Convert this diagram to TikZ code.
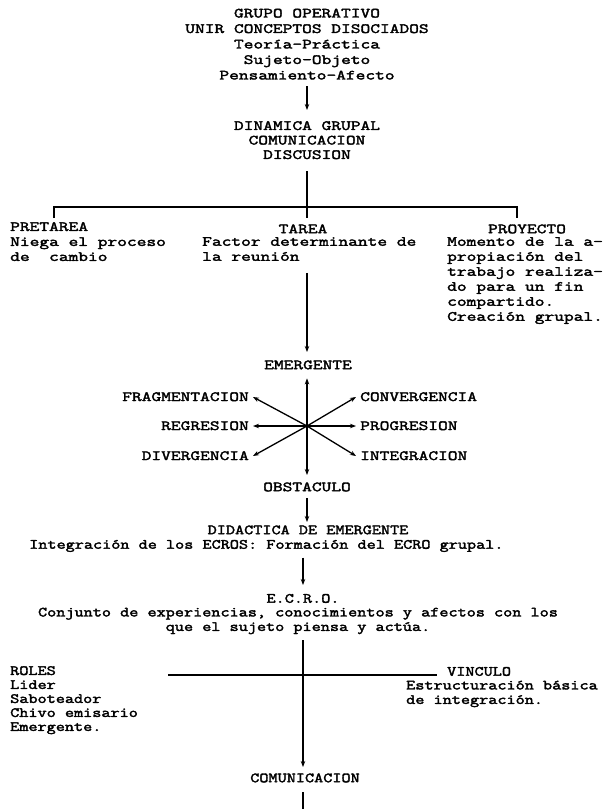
\documentclass[tikz,border=0pt]{standalone}
\usepackage{fontspec}
\newfontfamily\twa{Latin Modern Mono}[FakeStretch=1.35,FakeBold=2.5]
\newfontfamily\twb{Latin Modern Mono}[FakeStretch=1.265,FakeBold=2.5]
\usetikzlibrary{arrows.meta,calc}
\newcommand{\tsr}{\rule[-3pt]{0pt}{14pt}}
\tikzset{
  tx/.style={inner sep=0pt, execute at begin node=\tsr, execute at end node=\tsr,
    font=\twa\fontsize{14}{#1}\selectfont},
  tx/.default=15pt,
  txb/.style={inner sep=0pt, execute at begin node=\tsr, execute at end node=\tsr,
    font=\twb\fontsize{14}{#1}\selectfont},
  txb/.default=14.5pt,
  lbl/.style={tx, inner xsep=4pt},
  ln/.style={line width=1.3pt, black},
  arr/.style={ln, -{Stealth[length=6pt,width=4.5pt]}}
}
\lineskiplimit=-20pt
\begin{document}
\lineskiplimit=-20pt
\begin{tikzpicture}[x=1pt,y=-1pt]
\fill[white] (0,0) rectangle (608,809);
\useasboundingbox (0,0) rectangle (608,809);

% top
\node[tx=15.5pt, align=center, anchor=north] (top) at (307,8.5)
  {GRUPO OPERATIVO\\UNIR CONCEPTOS DISOCIADOS\\Teoría-Práctica\\Sujeto-Objeto\\Pensamiento-Afecto};
\node[tx=14.5pt, align=center, anchor=north] (din) at (307,121)
  {DINAMICA GRUPAL\\COMUNICACION\\DISCUSION};
\draw[arr, shorten <=3.5pt, shorten >=11pt] (top.south) -- (din.north);

% three branches
\node[tx, align=left, anchor=north west] (pre) at (10,222)
  {PRETAREA\\Niega el proceso\\de\ \ cambio};
\node[tx, anchor=north] (tarea) at (303,222) {TAREA};
\node[tx, align=left, anchor=north west] (tdesc) at (202,237)
  {Factor determinante de\\la reunión};
\node[tx, anchor=north] (proj) at (527,222) {PROYECTO};
\node[tx, align=left, anchor=north west] (pdesc) at (447,237)
  {Momento de la a-\\propiación del\\trabajo realiza-\\do para un fin\\compartido.\\Creación grupal.};

\coordinate (hl) at (54,207);
\coordinate (hr) at (517,207);
\coordinate (hlt) at (54,218);
\coordinate (hrt) at (517,218);
\draw[ln] (hlt) -- (hl) -- (hr) -- (hrt);
\draw[ln, shorten <=9pt, shorten >=4pt] (din.south) -- (din.south |- tarea.north);

% star
\coordinate (sc) at (307,426);
\node[tx, anchor=north] (emer) at (308,358) {EMERGENTE};
\node[tx, anchor=north] (obst) at (307,480) {OBSTACULO};
\node[lbl, anchor=east] (frag) at (253,397) {FRAGMENTACION};
\node[lbl, anchor=east] (regr) at (253,426) {REGRESION};
\node[lbl, anchor=east] (div) at (253,456) {DIVERGENCIA};
\node[lbl, anchor=west] (conv) at (356,397) {CONVERGENCIA};
\node[lbl, anchor=west] (prog) at (356,426) {PROGRESION};
\node[lbl, anchor=west] (integ) at (356,456) {INTEGRACION};

\draw[arr, shorten <=9pt, shorten >=6pt] (sc |- tdesc.south) -- (sc |- emer.north);
\draw[arr, shorten >=6pt] (sc) -- (sc |- emer.south);
\draw[arr, shorten >=5pt] (sc) -- (sc |- obst.north);
\draw[arr] (sc) -- (frag.east);
\draw[arr] (sc) -- (regr.east);
\draw[arr] (sc) -- (div.east);
\draw[arr] (sc) -- (conv.west);
\draw[arr] (sc) -- (prog.west);
\draw[arr] (sc) -- (integ.west);

% lower part
\node[txb, anchor=north] (didac) at (308,523) {DIDACTICA DE EMERGENTE};
\node[txb, anchor=north west] (didesc) at (29,537.5)
  {Integración de los ECROS: Formación del ECRO grupal.};
\draw[arr, shorten <=4pt, shorten >=1pt] (obst.south) -- (obst.south |- didac.north);

\node[txb, anchor=north] (ecro) at (303,591.5) {E.C.R.O.};
\node[txb=14.5pt, align=center, anchor=north] (ecdesc) at (298,607.5)
  {Conjunto de experiencias, conocimientos y afectos con los\\que el sujeto piensa y actúa.};
\draw[arr, shorten <=5.5pt, shorten >=6.5pt] (ecro.north |- didesc.south) -- (ecro.north);

\node[txb=14pt, align=left, anchor=north west] (roles) at (10,666)
  {ROLES\\Lider\\Saboteador\\Chivo emisario\\Emergente.};
\node[txb, anchor=north west] (vinc) at (447,664.5) {VINCULO};
\node[txb=14.5pt, align=left, anchor=north west] (vdesc) at (406,680.5)
  {Estructuración básica\\de integración.};

\coordinate (bl) at (168,675);
\coordinate (br) at (437,675);
\draw[ln] (bl) -- (br);

\node[txb, anchor=north] (comm) at (305,771) {COMUNICACION};
\draw[arr, shorten <=6pt, shorten >=4pt] (ecro.south |- ecdesc.south) -- (ecro.south |- comm.north);
\coordinate (bot) at (303,809);
\draw[ln, shorten <=7pt] (bot |- comm.south) -- (bot);
\end{tikzpicture}
\end{document}
